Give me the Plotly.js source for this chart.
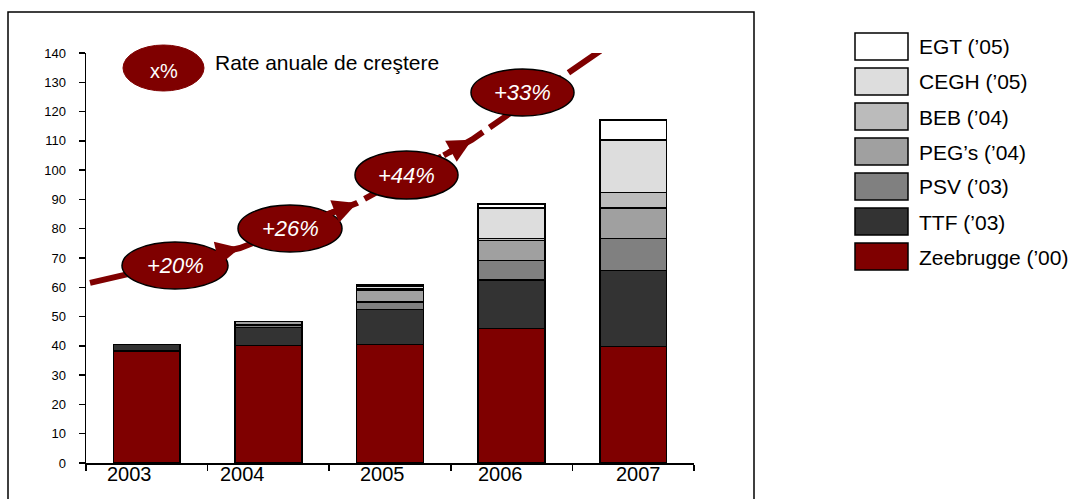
<!DOCTYPE html>
<html>
<head>
<meta charset="utf-8">
<script src="https://cdn.plot.ly/plotly-3.0.1.min.js"></script>
<style>html,body{margin:0;padding:0;background:#fff;}#chart{width:1076px;height:499px;}</style>
</head>
<body>
<div id="chart"></div>
<script>
// ---- data ----
const years = ['2003', '2004', '2005', '2006', '2007'];
const seriesNames = ["Zeebrugge (’00)", "TTF (’03)", "PSV (’03)", "PEG’s (’04)", "BEB (’04)", "CEGH (’05)", "EGT (’05)"];
const zeebrugge = [38.3, 40.2, 40.5, 46.0, 39.7];
const ttf       = [2.2, 6.1, 12.0, 16.5, 26.0];
const psv       = [null, 0.8, 2.5, 6.6, 11.0];
const pegs      = [null, 1.2, 4.0, 6.8, 10.3];
const beb       = [null, null, 0.5, 0.8, 5.3];
const cegh      = [null, null, 0.7, 10.3, 18.0];
const egt       = [null, null, 0.5, 1.4, 6.8];
const growthLabels = ['+20%', '+26%', '+44%', '+33%'];
const trendX = [-0.467, 0.766, 1.729, 2.674, 3.73];
const trendY = [61.5, 73.4, 88.8, 110.4, 140.8];
const legendNote = 'Rate anuale de creştere';
const legendNoteSymbol = 'x%';

// ---- styles ----
const colors = ['#7f0000', '#333333', '#808080', '#a0a0a0', '#bbbbbb', '#dddddd', '#ffffff'];
const FONT = 'Liberation Sans, Arial, sans-serif';
const L = 86, W = 608, T = 53, H = 410;
const px = v => (v - L) / W;
const py = v => (T + H - v) / H;

const seriesValues = [zeebrugge, ttf, psv, pegs, beb, cegh, egt];
const xIdx = years.map((_, i) => i);

const traces = seriesValues.map((vals, k) => ({
  type: 'bar',
  name: seriesNames[k],
  x: xIdx,
  y: vals,
  width: 0.55,
  marker: {color: colors[k], line: {color: '#000', width: 1.5}},
  hoverinfo: 'skip'
}));

traces.push({
  type: 'scatter',
  mode: 'lines',
  x: trendX,
  y: trendY,
  cliponaxis: false,
  line: {color: '#7f0000', width: 6, dash: '40px,8px'},
  hoverinfo: 'skip',
  showlegend: false
});

const shapes = [];
const annotations = [];

// outer frame
shapes.push({type: 'rect', xref: 'paper', yref: 'paper', x0: px(8), x1: px(754), y0: py(530), y1: py(12),
  line: {color: '#000', width: 1.5}, fillcolor: 'rgba(0,0,0,0)', layer: 'below'});

// arrow heads along the trend line
const xPix = W / 5, yPix = H / 140;
for (let i = 1; i < trendX.length; i++) {
  const dx = (trendX[i] - trendX[i - 1]) * xPix;
  const dy = (trendY[i] - trendY[i - 1]) * yPix;
  const len = Math.sqrt(dx * dx + dy * dy);
  annotations.push({xref: 'x', yref: 'y', x: trendX[i], y: trendY[i], ax: -dx / len * 34, ay: dy / len * 34,
    showarrow: true, arrowhead: 2, arrowsize: 0.8, arrowwidth: 6, arrowcolor: '#7f0000', standoff: 0, startstandoff: 0, text: ''});
}

// growth ellipses (pixel boxes)
const ellipseBoxes = [[122, 228, 242, 289], [238, 342, 205, 252], [355, 458, 151, 199], [471, 574, 69, 116]];
growthLabels.forEach((g, i) => {
  const b = ellipseBoxes[i];
  shapes.push({type: 'circle', xref: 'paper', yref: 'paper', x0: px(b[0]), x1: px(b[1]), y0: py(b[3]), y1: py(b[2]),
    fillcolor: '#7f0000', line: {color: '#000', width: 1.5}, layer: 'above'});
  annotations.push({xref: 'paper', yref: 'paper', x: px((b[0] + b[1]) / 2), y: py((b[2] + b[3]) / 2),
    text: g, showarrow: false, xanchor: 'center', yanchor: 'middle',
    font: {family: FONT, size: 22, color: '#fff', style: 'italic'}});
});

// note ellipse
shapes.push({type: 'circle', xref: 'paper', yref: 'paper', x0: px(123), x1: px(204), y0: py(91), y1: py(45),
  fillcolor: '#7f0000', line: {color: '#7f0000', width: 1}, layer: 'above'});
annotations.push({xref: 'paper', yref: 'paper', x: px(164), y: py(71), text: legendNoteSymbol, showarrow: false,
  xanchor: 'center', yanchor: 'middle', font: {family: FONT, size: 20, color: '#fff'}});
annotations.push({xref: 'paper', yref: 'paper', x: px(213), y: py(62), text: legendNote, showarrow: false,
  xanchor: 'left', yanchor: 'middle', font: {family: FONT, size: 21, color: '#000'}});

// year labels
const yearLabelShift = [-0.14, -0.21, -0.06, -0.09, 0.04];
years.forEach((y, i) => {
  annotations.push({xref: 'x', yref: 'paper', x: i + yearLabelShift[i], y: py(474), text: y, showarrow: false,
    xanchor: 'center', yanchor: 'middle', font: {family: FONT, size: 20, color: '#000'}});
});

// custom legend (top = last series)
for (let r = 0; r < seriesNames.length; r++) {
  const k = seriesNames.length - 1 - r;
  const top = 33 + r * 35;
  shapes.push({type: 'rect', xref: 'paper', yref: 'paper', x0: px(855), x1: px(908), y0: py(top + 27), y1: py(top),
    fillcolor: colors[k], line: {color: '#000', width: 1.5}});
  annotations.push({xref: 'paper', yref: 'paper', x: px(917), y: py(top + 14), text: seriesNames[k], showarrow: false,
    xanchor: 'left', yanchor: 'middle', font: {family: FONT, size: 21, color: '#000'}});
}

const layout = {
  width: 1076, height: 499,
  margin: {l: L, r: 1076 - L - W, t: T, b: 499 - T - H},
  paper_bgcolor: '#fff', plot_bgcolor: '#fff',
  barmode: 'stack',
  showlegend: false,
  font: {family: FONT, color: '#000'},
  xaxis: {range: [-0.5, 4.5], tickvals: [-0.5, 0.5, 1.5, 2.5, 3.5, 4.5], showticklabels: false,
    ticks: 'outside', ticklen: 6, tickwidth: 1.5, tickcolor: '#000',
    showline: true, linecolor: '#000', linewidth: 1.5, showgrid: false, zeroline: false, fixedrange: true},
  yaxis: {range: [0, 140], dtick: 10, tick0: 0, ticks: 'outside', ticklen: 6, tickwidth: 1.5, tickcolor: '#000',
    showline: true, linecolor: '#000', linewidth: 1.5, showgrid: false, zeroline: false,
    tickfont: {family: FONT, size: 13, color: '#000'}, ticklabelstandoff: 10, fixedrange: true},
  shapes: shapes,
  annotations: annotations
};

Plotly.newPlot('chart', traces, layout, {displayModeBar: false, staticPlot: true});
</script>
</body>
</html>
